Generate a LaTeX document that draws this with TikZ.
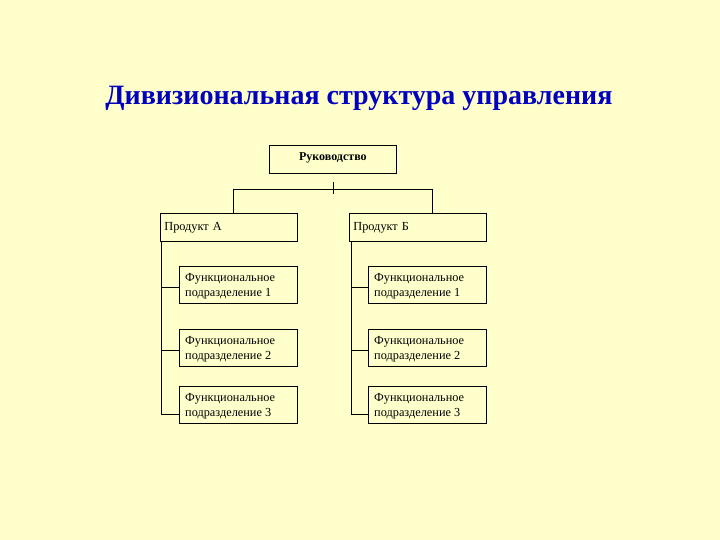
\documentclass[tikz,border=0pt]{standalone}
\usepackage{fontspec}
\setmainfont{Liberation Serif}
\definecolor{bg}{RGB}{255,255,204}
\definecolor{titleblue}{RGB}{0,0,190}
\begin{document}
\begin{tikzpicture}[x=1pt,y=-1pt,
  box/.style={draw=black, line width=0.8pt, fill=bg, inner sep=0pt, anchor=north west},
  fbox/.style={box, minimum width=118pt, minimum height=37pt},
  ftext/.style={anchor=west, inner sep=0pt, align=left, font=\fontsize{12.3}{14.5}\selectfont},
  pbox/.style={box, minimum width=137pt, minimum height=28pt, text width=129pt, inner xsep=4pt, align=left, font=\fontsize{12.3}{14}\selectfont},
  conn/.style={draw=black, line width=0.8pt}]
\fill[bg] (0,0) rectangle (720,540);
\useasboundingbox (0,0) rectangle (720,540);
\node[text=titleblue, font=\bfseries\fontsize{28}{30}\selectfont] (title) at (359,98) {Дивизиональная структура управления};
\node[box, minimum width=127pt, minimum height=28pt] (top) at (269,145) {};
\node[font=\bfseries\fontsize{12}{14}\selectfont] (toplbl) at (top.center) [yshift=2pt] {Руководство};
\node[pbox] (pa) at (160,213) {Продукт А};
\node[pbox] (pb) at (349,213) {Продукт Б};
\node[fbox] (a1) at (179,266) {};
\node[fbox] (a2) at (179,329) {};
\node[fbox] (a3) at (179,386) {};
\node[fbox] (b1) at (368,266) {};
\node[fbox] (b2) at (368,329) {};
\node[fbox] (b3) at (368,386) {};
\foreach \n/\k in {a1/1,a2/2,a3/3,b1/1,b2/2,b3/3}
  \node[ftext] (\n t) at ([xshift=6pt,yshift=-1.5pt]\n.west) {Функциональное\\подразделение~\k};
\coordinate (jl) at (233,189);
\coordinate (jr) at (432,189);
\coordinate (tt) at (333,182);
\coordinate (tb) at (333,194);
\coordinate (sl) at (161,241);
\coordinate (sr) at (351,241);
\coordinate (a1e) at ([yshift=-2.5pt]a1.west);
\coordinate (a2e) at ([yshift=-2.5pt]a2.west);
\coordinate (a3e) at ([yshift=-9pt]a3.west);
\coordinate (b1e) at ([yshift=-2.5pt]b1.west);
\coordinate (b2e) at ([yshift=-2.5pt]b2.west);
\coordinate (b3e) at ([yshift=-9pt]b3.west);
\draw[conn] (jl) -- (jr);
\draw[conn] (tt) -- (tb);
\draw[conn] (jl) -- (jl |- pa.north);
\draw[conn] (jr) -- (jr |- pb.north);
\draw[conn] (sl) |- (a3e);
\draw[conn] (sl |- a1e) -- (a1e);
\draw[conn] (sl |- a2e) -- (a2e);
\draw[conn] (sr) |- (b3e);
\draw[conn] (sr |- b1e) -- (b1e);
\draw[conn] (sr |- b2e) -- (b2e);
\end{tikzpicture}
\end{document}
